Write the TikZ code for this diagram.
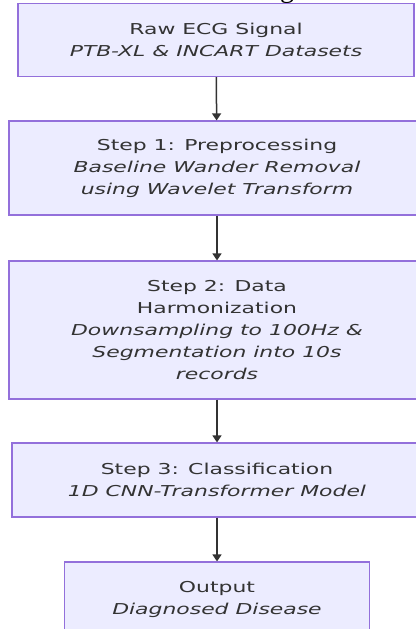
\documentclass[tikz,border=0pt]{standalone}
\usepackage{fontspec}
\usepackage{xcolor}
\usepackage{tikz}
\usetikzlibrary{arrows.meta}

\setmainfont{DejaVu Sans}[FakeStretch=1.46]
\newfontfamily\titlefont{Liberation Serif}

\definecolor{boxfill}{HTML}{ECECFF}
\definecolor{boxline}{HTML}{9370DB}
\definecolor{ink}{HTML}{333333}

\tikzset{
    stage/.style={draw=boxline, line width=1.2pt, fill=boxfill, rectangle, inner sep=0pt,
        align=center, text=ink, font=\fontsize{15}{22}\selectfont},
}

\begin{document}
\begin{tikzpicture}[x=1pt, y=-1pt, >={Triangle[width=9pt, length=7pt]}]
    \useasboundingbox (0, 0) rectangle (415, 629);

    \node[anchor=base, font=\titlefont\fontsize{28}{30}\selectfont] at (287, -2) (title) {g};

    \node[stage, minimum width=396pt, minimum height=73pt] at (216, 40) (raw) {Raw ECG Signal\\{\itshape PTB-XL \& INCART Datasets}};
    \node[stage, minimum width=416pt, minimum height=94pt] at (217, 168) (prep) {Step 1: Preprocessing\\{\itshape Baseline Wander Removal}\\{\itshape using Wavelet Transform}};
    \node[stage, minimum width=416pt, minimum height=138pt] at (217, 330) (harm) {Step 2: Data\\Harmonization\\{\itshape Downsampling to 100Hz \&}\\{\itshape Segmentation into 10s}\\{\itshape records}};
    \node[stage, minimum width=410pt, minimum height=74pt] at (217, 480) (cls) {Step 3: Classification\\{\itshape 1D CNN-Transformer Model}};
    \node[stage, minimum width=305pt, minimum height=74pt] at (217, 599) (out) {Output\\{\itshape Diagnosed Disease}};

    \draw[->, draw=ink, fill=ink, line width=1.5pt] (raw) edge (prep);
    \draw[->, draw=ink, fill=ink, line width=1.5pt] (prep) edge (harm);
    \draw[->, draw=ink, fill=ink, line width=1.5pt] (harm) edge (cls);
    \draw[->, draw=ink, fill=ink, line width=1.5pt] (cls) edge (out);
\end{tikzpicture}
\end{document}
